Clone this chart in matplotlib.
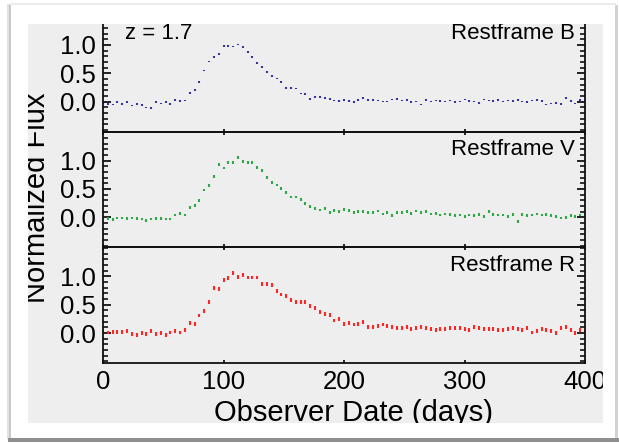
"""
Normalized restframe B / V / R light curves of a z = 1.7 supernova,
stacked in three panels sharing the observer-date axis.
"""
import numpy as np
import matplotlib
matplotlib.use("Agg")
import matplotlib.pyplot as plt
from matplotlib.patches import Rectangle
from matplotlib.ticker import FixedLocator, MultipleLocator

plt.rcParams["font.family"] = ["Liberation Sans", "DejaVu Sans"]

W, H = 619, 443

# observing cadence: one epoch every ~4 days
days = np.arange(0, 401, 4)

flux_B = [-0.02, -0.04, -0.05, -0.01, -0.04, -0.01, -0.07, -0.04, -0.06, -0.10,
          -0.11, -0.01, -0.03, -0.01, -0.04, 0.03, 0.01, 0.02, 0.15, 0.21,
          0.35, 0.55, 0.71, 0.79, 0.84, 0.98, 0.98, 0.97, 1.01, 0.96,
          0.88, 0.79, 0.68, 0.61, 0.52, 0.45, 0.41, 0.35, 0.24, 0.24,
          0.23, 0.14, 0.13, 0.05, 0.08, 0.08, 0.06, 0.05, 0.02, 0.01,
          0.03, 0.01, -0.01, 0.03, 0.06, 0.03, 0.03, 0.02, 0.00, 0.00,
          0.04, 0.05, 0.02, 0.03, -0.01, 0.00, -0.05, 0.03, 0.00, 0.02,
          0.01, 0.00, 0.02, -0.01, 0.00, 0.04, 0.01, 0.00, -0.02, 0.04,
          0.02, 0.01, 0.03, 0.00, 0.02, 0.01, 0.03, 0.00, -0.01, 0.02,
          0.03, 0.01, -0.05, -0.03, -0.02, -0.04, 0.06, 0.01, -0.03, 0.03,
          0.02]

flux_V = [0.00, -0.02, -0.04, -0.01, -0.01, -0.02, -0.01, -0.02, -0.03, -0.05,
          -0.03, -0.02, -0.02, -0.03, -0.03, 0.04, 0.07, 0.04, 0.17, 0.21,
          0.30, 0.48, 0.56, 0.72, 0.93, 0.87, 0.97, 0.97, 1.06, 0.98,
          0.97, 0.97, 0.88, 0.82, 0.70, 0.62, 0.57, 0.51, 0.44, 0.36,
          0.36, 0.31, 0.25, 0.19, 0.15, 0.13, 0.15, 0.08, 0.12, 0.10,
          0.14, 0.12, 0.08, 0.10, 0.10, 0.08, 0.09, 0.11, 0.06, 0.08,
          0.03, 0.09, 0.08, 0.10, 0.07, 0.11, 0.09, 0.10, 0.06, 0.07,
          0.04, 0.06, 0.05, 0.03, 0.04, 0.02, 0.04, 0.03, 0.05, 0.02,
          0.10, 0.05, 0.04, 0.04, 0.02, 0.05, -0.07, 0.05, 0.03, 0.04,
          0.06, 0.04, 0.05, 0.03, 0.02, -0.01, 0.00, 0.03, 0.02, 0.04,
          0.07]

flux_R = [0.02, 0.01, 0.02, 0.02, 0.02, 0.03, -0.01, -0.04, 0.00, -0.02,
          0.04, -0.01, 0.00, -0.04, 0.01, 0.04, 0.01, 0.05, 0.18, 0.16,
          0.31, 0.39, 0.55, 0.79, 0.78, 0.93, 0.97, 1.06, 0.99, 1.03,
          0.98, 0.98, 0.98, 0.86, 0.86, 0.85, 0.74, 0.68, 0.65, 0.59,
          0.55, 0.54, 0.55, 0.48, 0.44, 0.37, 0.34, 0.32, 0.22, 0.25,
          0.16, 0.18, 0.15, 0.16, 0.19, 0.10, 0.10, 0.12, 0.15, 0.13,
          0.11, 0.09, 0.09, 0.11, 0.07, 0.09, 0.11, 0.09, 0.07, 0.05,
          0.07, 0.07, 0.09, 0.09, 0.09, 0.07, 0.05, 0.11, 0.09, 0.07,
          0.07, 0.07, 0.05, 0.05, 0.07, 0.09, 0.07, 0.06, 0.09, 0.01,
          0.03, 0.07, 0.05, 0.03, 0.00, 0.09, 0.10, 0.05, 0.00, 0.06,
          0.04]

bands = ["Restframe B", "Restframe V", "Restframe R"]
fluxes = [flux_B, flux_V, flux_R]
colors = ["#34349c", "#2fa84a", "#ff2525"]
bar_half = [0.014, 0.024, 0.034]

fig = plt.figure(figsize=(W / 100, H / 100), dpi=100)
fig.patch.set_facecolor("white")


def px_rect(x0, y0, x1, y1, color, z):
    # rectangle given in pixel coords measured from the top-left corner
    r = Rectangle((x0 / W, 1 - y1 / H), (x1 - x0) / W, (y1 - y0) / H,
                  transform=fig.transFigure, facecolor=color,
                  edgecolor="none", zorder=z)
    fig.add_artist(r)


# grey plotting canvas
px_rect(28, 24, 603, 423, "#eeeeee", -1)

ax_left, ax_right = 103, 585
panel_top, panel_h = 16, 115.7
axes = []
for k in range(3):
    top = panel_top + k * panel_h
    ax = fig.add_axes([ax_left / W, 1 - (top + panel_h) / H,
                       (ax_right - ax_left) / W, panel_h / H])
    ax.set_facecolor("none")
    ax.errorbar(days, fluxes[k], yerr=bar_half[k], fmt="none",
                ecolor=colors[k], elinewidth=1.5, capsize=0)
    ax.set_xlim(0, 400)
    ax.set_ylim(-0.53, 1.51)
    ax.yaxis.set_major_locator(FixedLocator([0.0, 0.5, 1.0]))
    ax.yaxis.set_minor_locator(MultipleLocator(0.1))
    ax.set_yticklabels(["0.0", "0.5", "1.0"])
    ax.xaxis.set_major_locator(MultipleLocator(100))
    ax.tick_params(axis="y", which="major", direction="in", left=True,
                   right=True, length=6, width=1.2, labelsize=18.5, pad=5)
    ax.tick_params(axis="y", which="minor", direction="in", left=True,
                   right=True, length=3.5, width=1.1)
    ax.tick_params(axis="x", which="major", direction="in", top=True,
                   bottom=True, length=2.5, width=1.2, labelsize=18.5, pad=5)
    for sp in ax.spines.values():
        sp.set_linewidth(1.3)
        sp.set_color("#111111")
    if k < 2:
        ax.tick_params(axis="x", labelbottom=False)
    ax.text(0.979, 1 - 23.5 / panel_h, bands[k], transform=ax.transAxes,
            ha="right", va="baseline", fontsize=16)
    axes.append(ax)

axes[0].text(0.046, 1 - 23.5 / panel_h, "z = 1.7",
             transform=axes[0].transAxes, ha="left", va="baseline",
             fontsize=16)

fig.text(354 / W, 1 - 421 / H, "Observer Date (days)", ha="center",
         va="baseline", fontsize=21)
fig.text(45 / W, 1 - 198 / H, "Normalized Flux", rotation=90,
         rotation_mode="anchor", ha="center", va="baseline", fontsize=21)

# white mount around the canvas, drawn over anything that spills out
px_rect(0, 0, 28, H, "white", 5)
px_rect(603, 0, W, H, "white", 5)
px_rect(0, 0, W, 24, "white", 5)
px_rect(0, 423, W, H, "white", 5)

# soft shadow edges of the mount
px_rect(7, 4, 10, 439, "#e2e2e2", 6)
px_rect(9, 5, 11, 439, "#c9c9c9", 6)
px_rect(10, 3, 616, 5, "#ececec", 6)
px_rect(615, 5, 618, 441, "#d2d2d2", 6)
px_rect(8, 438, 619, 442, "#8f8f8f", 6)

fig.savefig("out.png", dpi=100)
